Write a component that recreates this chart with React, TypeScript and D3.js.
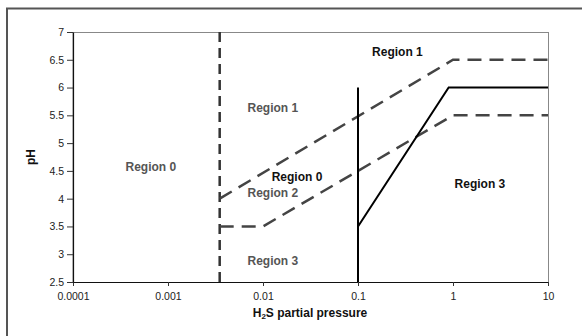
import { useRef, useEffect } from "react";
import * as d3 from "d3";

// H2S partial pressure (bar) vs pH region map
const xTicks = [0.0001, 0.001, 0.01, 0.1, 1, 10];
const yTicks = [2.5, 3, 3.5, 4, 4.5, 5, 5.5, 6, 6.5, 7];

type Pt = { p: number; ph: number };

const region0Boundary: Pt[] = [{ p: 0.0035, ph: 2.5 }, { p: 0.0035, ph: 7 }];
const upperDashed: Pt[] = [{ p: 0.0035, ph: 4 }, { p: 1, ph: 6.5 }, { p: 10, ph: 6.5 }];
const lowerDashed: Pt[] = [{ p: 0.0035, ph: 3.5 }, { p: 0.01, ph: 3.5 }, { p: 1, ph: 5.5 }, { p: 10, ph: 5.5 }];
const solidVertical: Pt[] = [{ p: 0.1, ph: 2.5 }, { p: 0.1, ph: 6 }];
const solidSlope: Pt[] = [{ p: 0.1, ph: 3.5 }, { p: 0.9, ph: 6 }, { p: 10, ph: 6 }];

const labelText = ["Region 1", "Region 1", "Region 0", "Region 0", "Region 2", "Region 3", "Region 3"];
const labelP = [0.26, 0.0127, 0.00066, 0.0228, 0.0127, 0.0127, 1.92];
const labelPh = [6.57, 5.56, 4.5, 4.32, 4.03, 2.81, 4.19];
const labelDark = [true, false, false, true, false, false, true];

export default function App() {
  const svgRef = useRef<SVGSVGElement>(null);
  const W = 582, H = 336;

  useEffect(() => {
    if (!svgRef.current) return;
    const svg = d3.select(svgRef.current);
    svg.selectAll("*").remove();

    const font = "'Liberation Sans', Arial, sans-serif";
    const m = { top: 32, right: 34, bottom: 54, left: 73 };
    const iW = W - m.left - m.right;
    const iH = H - m.top - m.bottom;

    // outer frame
    svg.append("rect").attr("x", 7).attr("y", 8.5).attr("width", W + 20).attr("height", H + 20)
      .attr("fill", "none").attr("stroke", "#555").attr("stroke-width", 2);

    const g = svg.append("g").attr("transform", `translate(${m.left},${m.top})`);
    const x = d3.scaleLog().domain([0.0001, 10]).range([0, iW]);
    const y = d3.scaleLinear().domain([2.5, 7]).range([iH, 0]);

    // plot area border
    g.append("rect").attr("x", 0).attr("y", 0.5).attr("width", iW + 0.5).attr("height", iH)
      .attr("fill", "none").attr("stroke", "#888").attr("stroke-width", 1);

    const xAxis = g.append("g").attr("transform", `translate(0,${iH})`)
      .call(d3.axisBottom(x).tickValues(xTicks).tickFormat(d => String(d)).tickSize(4).tickSizeOuter(0).tickPadding(7));
    xAxis.select(".domain").attr("stroke", "#111").attr("stroke-width", 1.2);
    xAxis.selectAll("line").attr("stroke", "#333");
    xAxis.selectAll("text").attr("fill", "#222").attr("font-size", "10.5px").attr("font-family", font);

    const yAxis = g.append("g")
      .call(d3.axisLeft(y).tickValues(yTicks).tickFormat(d => String(d)).tickSize(6).tickSizeOuter(0).tickPadding(3));
    yAxis.select(".domain").attr("stroke", "#111").attr("stroke-width", 1.2);
    yAxis.selectAll("line").attr("stroke", "#333");
    yAxis.selectAll("text").attr("fill", "#222").attr("font-size", "10.5px").attr("font-family", font);

    const line = d3.line<Pt>().x(d => x(d.p)).y(d => y(d.ph));

    g.append("path").datum(region0Boundary).attr("d", line).attr("fill", "none")
      .attr("stroke", "#333").attr("stroke-width", 2.5).attr("stroke-dasharray", "10,6");
    [upperDashed, lowerDashed].forEach(dd => {
      g.append("path").datum(dd).attr("d", line).attr("fill", "none")
        .attr("stroke", "#444").attr("stroke-width", 2.5).attr("stroke-dasharray", "14,8");
    });
    [solidVertical, solidSlope].forEach(dd => {
      g.append("path").datum(dd).attr("d", line).attr("fill", "none")
        .attr("stroke", "#000").attr("stroke-width", 2);
    });

    labelText.forEach((t, i) => {
      g.append("text").attr("x", x(labelP[i])).attr("y", y(labelPh[i]))
        .attr("text-anchor", "middle").attr("font-family", font).attr("font-size", "12px")
        .attr("font-weight", "bold").attr("fill", labelDark[i] ? "#111" : "#555")
        .text(t);
    });

    // axis titles
    g.append("text").attr("transform", "rotate(-90)").attr("x", -iH / 2).attr("y", 35 - m.left)
      .attr("text-anchor", "middle").attr("font-family", font).attr("font-size", "12px")
      .attr("font-weight", "bold").attr("fill", "#111").text("pH");
    const xt = g.append("text").attr("x", 310 - m.left).attr("y", 317 - m.top)
      .attr("text-anchor", "middle").attr("font-family", font).attr("font-size", "12px")
      .attr("font-weight", "bold").attr("fill", "#111");
    xt.append("tspan").text("H");
    xt.append("tspan").attr("font-size", "8px").attr("dy", 2).text("2");
    xt.append("tspan").attr("dy", -2).text("S partial pressure");
  }, []);

  return (
    <div style={{ position: "absolute", left: 0, top: 0, width: W, height: H, overflow: "hidden", background: "#fff" }}>
      <svg ref={svgRef} width={W} height={H} />
    </div>
  );
}
